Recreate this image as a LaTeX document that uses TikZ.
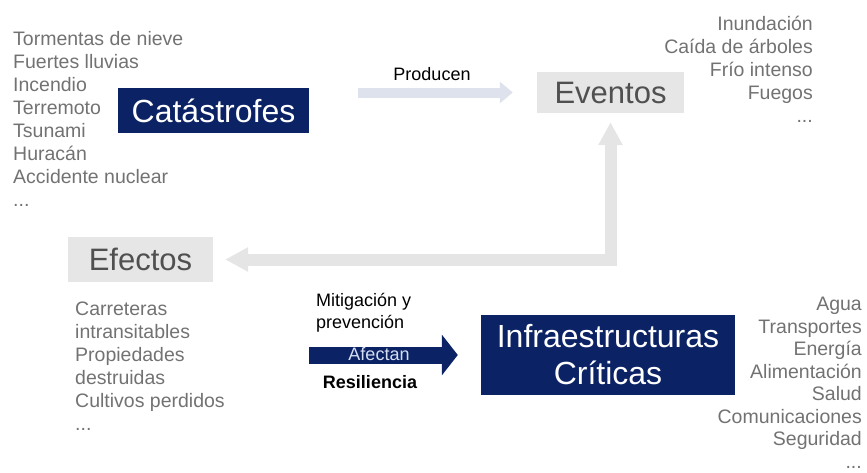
\documentclass[tikz,border=0pt]{standalone}
\usepackage{fontspec}
\setmainfont{Liberation Sans}
\usepackage{xcolor}
\usetikzlibrary{arrows.meta,positioning}

\definecolor{navy}{HTML}{0B2265}
\definecolor{listgrey}{HTML}{727272}
\definecolor{boxgrey}{HTML}{E6E6E6}
\definecolor{labelgrey}{HTML}{505050}
\definecolor{paleblue}{HTML}{DDE2EC}
\definecolor{arrowgrey}{HTML}{E5E5E5}
\definecolor{afectext}{HTML}{D6DEF2}

\begin{document}
\begin{tikzpicture}[x=1pt,y=-1pt,
  listtext/.style={inner sep=0,text=listgrey,font=\fontsize{19.5}{23}\selectfont},
  navybox/.style={fill=navy,text=white,inner sep=0,font=\fontsize{32}{37}\selectfont},
  greybox/.style={fill=boxgrey,text=labelgrey,inner sep=0,font=\fontsize{31}{35}\selectfont},
  smalltext/.style={inner sep=0,font=\fontsize{18}{22}\selectfont}]
\useasboundingbox (0,0) rectangle (867,472);

% main boxes
\node[navybox,minimum width=191pt,minimum height=45pt] (cat) at (213.5,110.5) {Catástrofes};
\node[greybox,minimum width=147pt,minimum height=41pt] (eve) at (610.5,92.5) {Eventos};
\node[greybox,minimum width=145pt,minimum height=45pt] (efe) at (140.5,259.5) {Efectos};
\node[navybox,minimum width=254pt,minimum height=80pt,align=center] (infra) at (608,355) {Infraestructuras\\Críticas};

% lists
\node[listtext,anchor=north west,align=left] (catlist) at (13,31) {Tormentas de nieve\\Fuertes lluvias\\Incendio\\Terremoto\\Tsunami\\Huracán\\Accidente nuclear\\...};
\node[listtext,anchor=north east,align=right] (evelist) at (813,16) {Inundación\\Caída de árboles\\Frío intenso\\Fuegos\\...};
\node[listtext,anchor=north west,align=left] (efelist) at (75,302) {Carreteras\\intransitables\\Propiedades\\destruidas\\Cultivos perdidos\\...};
\node[listtext,anchor=north east,align=right,font=\fontsize{19.5}{22.5}\selectfont] (infralist) at (862,297) {Agua\\Transportes\\Energía\\Alimentación\\Salud\\Comunicaciones\\Seguridad\\...};

% labels
\node[smalltext,anchor=base] (producen) at (432,80) {Producen};
\node[smalltext,anchor=north west,align=left] (mitig) at (316,293) {Mitigación y\\prevención};
\node[smalltext,anchor=base,font=\fontsize{18}{22}\selectfont\bfseries] (resil) at (370,388) {Resiliencia};

% arrows
\draw[line width=10pt,paleblue,-{Triangle[length=13pt,width=21pt]},shorten <=49pt,shorten >=24pt] (cat.east |- eve.west) -- (eve.west);
\draw[line width=12pt,arrowgrey,{Triangle[length=23pt,width=23pt]}-{Triangle[length=23pt,width=23pt]},shorten <=12pt,shorten >=9pt] (efe.east) -| (eve.south);
\coordinate (afstart) at (309,355);
\draw[line width=17pt,navy,-{Triangle[length=16pt,width=40pt]},shorten >=23pt] (afstart) -- (infra.west);
\node[smalltext,anchor=base,text=afectext] (afectan) at (379,360) {Afectan};
\end{tikzpicture}
\end{document}
